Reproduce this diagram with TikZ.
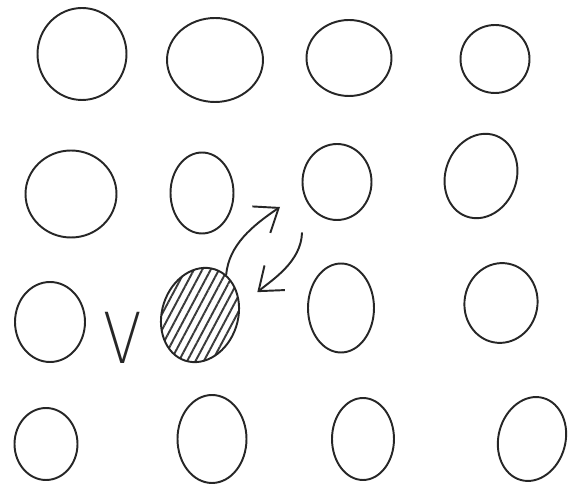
\documentclass[tikz,border=0pt]{standalone}
\usepackage{fontspec}
\usepackage{xcolor}
\usepackage{tikz}
\usetikzlibrary{arrows.meta,shapes.geometric,patterns.meta}
\newfontfamily\sketchfont{DejaVuSans-ExtraLight.ttf}
\definecolor{SketchInk}{HTML}{262626}
\definecolor{SketchHatch}{HTML}{3A3A3A}

\begin{document}
\begin{tikzpicture}[
  x=0.02cm,y=-0.02cm,
  bead/.style={ellipse,draw=SketchInk,line width=1.1pt,inner sep=0pt},
  picked/.style={bead,pattern={Lines[angle=62,distance=4.2pt,line width=1.1pt]},pattern color=SketchHatch},
  swaparrow/.style={draw=SketchInk,line width=1.1pt,line cap=round,-{Straight Barb[length=4.2mm,width=6.4mm]}},
  vlabel/.style={font=\sketchfont\fontsize{40}{40}\selectfont,text=SketchInk,inner sep=0pt,xscale=0.8}
]
\useasboundingbox (0,0) rectangle (569,493);
\node[bead,minimum width=1.78cm,minimum height=1.84cm] (c11) at (82,54) {};
\node[bead,minimum width=1.92cm,minimum height=1.68cm] (c12) at (215,60) {};
\node[bead,minimum width=1.70cm,minimum height=1.52cm] (c13) at (349,58) {};
\node[bead,minimum width=1.38cm,minimum height=1.36cm] (c14) at (495,59) {};
\node[bead,minimum width=1.82cm,minimum height=1.74cm] (c21) at (71,194) {};
\node[bead,minimum width=1.26cm,minimum height=1.62cm] (c22) at (202,193) {};
\node[bead,minimum width=1.38cm,minimum height=1.52cm] (c23) at (337,182) {};
\node[bead,minimum width=1.42cm,minimum height=1.72cm,rotate=-20] (c24) at (481,176) {};
\node[bead,minimum width=1.40cm,minimum height=1.60cm] (c31) at (50,322) {};
\node[picked,minimum width=1.52cm,minimum height=1.92cm,rotate=-18] (c32) at (200,315) {};
\node[bead,minimum width=1.32cm,minimum height=1.78cm] (c33) at (341,308) {};
\node[bead,minimum width=1.46cm,minimum height=1.60cm,rotate=-10] (c34) at (501,303) {};
\node[bead,minimum width=1.26cm,minimum height=1.44cm] (c41) at (46,444) {};
\node[bead,minimum width=1.38cm,minimum height=1.76cm] (c42) at (212,439) {};
\node[bead,minimum width=1.24cm,minimum height=1.64cm] (c43) at (363,439) {};
\node[bead,minimum width=1.34cm,minimum height=1.70cm,rotate=-15] (c44) at (532,439) {};
\node[vlabel,anchor=south] (vmark) at (123,364) {V};
\coordinate (rotTop) at (280,207);
\coordinate (rotBack) at (302,233);
\draw[swaparrow] (c32.75) .. controls (229,245) and (252,226) .. (rotTop);
\draw[swaparrow,shorten >=0.45cm] (rotBack) .. controls (301,262) and (272,280) .. (c32.30);
\end{tikzpicture}
\end{document}
